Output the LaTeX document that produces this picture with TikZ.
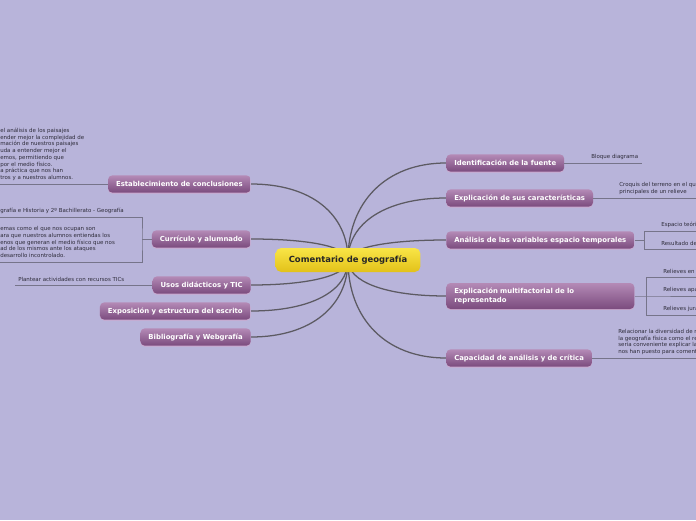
\documentclass[tikz,border=0pt]{standalone}
\usepackage{fontspec}
\setmainfont{DejaVu Sans}
\usepackage{tikz}
\usetikzlibrary{positioning, calc, shadows}

\definecolor{bgmap}{HTML}{B8B4DA}
\definecolor{topicTop}{HTML}{B48AB6}
\definecolor{topicBot}{HTML}{7B4B7E}
\definecolor{topicRim}{HTML}{CBA9CE}
\definecolor{rootTop}{HTML}{F9E547}
\definecolor{rootBot}{HTML}{E2C119}
\definecolor{linkGray}{HTML}{5C5A62}
\definecolor{noteGray}{HTML}{76748A}
\definecolor{noteText}{HTML}{2E2C3A}

\pgfdeclarelayer{edges}
\pgfsetlayers{edges,main}

\begin{document}
\begin{tikzpicture}[
    x=0.025cm, y=-0.025cm,
    root/.style={rectangle, rounded corners=4pt, top color=rootTop, bottom color=rootBot, text=black!85, font=\fontsize{6}{7}\selectfont\bfseries, minimum width=3.62cm, minimum height=0.6cm},
    topic/.style={rectangle, rounded corners=3pt, top color=topicTop, bottom color=topicBot, text=white, font=\fontsize{4.9}{5.9}\selectfont\bfseries, align=left, minimum height=0.43cm, inner xsep=0.2cm, drop shadow={shadow xshift=0pt, shadow yshift=-0.7pt, fill=topicRim, opacity=1}},
    note/.style={text=noteText, font=\fontsize{3.9}{4.8}\selectfont, align=left, inner sep=0pt},
    link/.style={draw=linkGray, line width=0.9pt},
    stem/.style={draw=noteGray, line width=0.5pt}
]

    \begin{pgfonlayer}{edges}
    \fill[bgmap] (0,0) rectangle (696,520);
    \end{pgfonlayer}
    \useasboundingbox (0,0) rectangle (696,520);

    % Central topic
    \node (root) [root] at (348,260) {Comentario de geografía};

    % Right branches
    \node (fuente) [topic, anchor=west] at (446,163) {Identificación de la fuente};
    \node (caract) [topic, anchor=west] at (446,198) {Explicación de sus características};
    \node (analisis) [topic, anchor=west] at (446,240) {Análisis de las variables espacio temporales};
    \node (multi) [topic, anchor=west, minimum height=0.65cm, text width=4.3cm] at (446,296) {Explicación multifactorial de lo\\representado};
    \node (capacidad) [topic, anchor=west] at (446,358) {Capacidad de análisis y de crítica};

    % Left branches
    \node (concl) [topic, anchor=east] at (251,184) {Establecimiento de conclusiones};
    \node (curriculo) [topic, anchor=east] at (251,239) {Currículo y alumnado};
    \node (usos) [topic, anchor=east] at (251,285) {Usos didácticos y TIC};
    \node (expo) [topic, anchor=east] at (251,311) {Exposición y estructura del escrito};
    \node (biblio) [topic, anchor=east] at (251,337) {Bibliografía y Webgrafía};

    % Notes, left side
    \node (conclNote) [note, anchor=south west] at (0,181) {el análisis de los paisajes\\ender mejor la complejidad de\\mación de nuestros paisajes\\uda a entender mejor el\\emos, permitiendo que\\por el medio físico.\\a práctica que nos han\\tros y a nuestros alumnos.};
    \coordinate (conclEnd) at (0,184);
    \node (currNoteA) [note, anchor=south west] at (0,214) {grafía e Historia y 2º Bachillerato - Geografía};
    \node (currNoteB) [note, anchor=south west] at (0,258) {emas como el que nos ocupan son\\ara que nuestros alumnos entiendas los\\enos que generan el medio físico que nos\\ad de los mismos ante los ataques\\ desarrollo incontrolado.};
    \coordinate (currTop) at (0,217);
    \coordinate (currBr) at (142,239);
    \coordinate (currBot) at (0,262);
    \node (usosNote) [note, anchor=south west] at (18,282) {Plantear actividades con recursos TICs};
    \coordinate (usosEnd) at (15,285);

    % Notes, right side
    \node (fuenteNote) [note, anchor=south west] at (591,160) {Bloque diagrama};
    \coordinate (fuenteEnd) at (642,163);
    \node (caractNote) [note, anchor=south west] at (619,195) {Croquis del terreno en el qu\\principales de un relieve};
    \coordinate (caractEnd) at (696,198);
    \node (anaNoteA) [note, anchor=south west] at (661,228) {Espacio teóri};
    \node (anaNoteB) [note, anchor=south west] at (661,246) {Resultado de};
    \coordinate (anaBr) at (644,240);
    \coordinate (anaTop) at (696,231);
    \coordinate (anaBot) at (696,249);
    \node (multiNoteA) [note, anchor=south west] at (663,274) {Relieves en};
    \node (multiNoteB) [note, anchor=south west] at (663,293) {Relieves apa};
    \node (multiNoteC) [note, anchor=south west] at (663,312) {Relieves jura};
    \coordinate (multiBr) at (646,296);
    \coordinate (multiTop) at (696,277);
    \coordinate (multiMid) at (696,296);
    \coordinate (multiBot) at (696,315);
    \node (capNote) [note, anchor=south west] at (618,355) {Relacionar la diversidad de r\\la geografía física como el re\\sería conveniente explicar la\\nos han puesto para coment};
    \coordinate (capEnd) at (696,358);

    % Stems to notes
    \draw [stem] (concl.west) -- (conclEnd);
    \draw [stem] (curriculo.west) -- (currBr);
    \draw [stem] (currTop) -| (currBr) |- (currBot);
    \draw [stem] (usos.west) -- (usosEnd);
    \draw [stem] (fuente.east) -- (fuenteEnd);
    \draw [stem] (caract.east) -- (caractEnd);
    \draw [stem] (analisis.east) -- (anaBr);
    \draw [stem] (anaTop) -| (anaBr) |- (anaBot);
    \draw [stem] (multi.east) -- (multiBr) -- (multiMid);
    \draw [stem] (multiTop) -| (multiBr) |- (multiBot);
    \draw [stem] (capacidad.east) -- (capEnd);

    % Branch curves
    \begin{pgfonlayer}{edges}
    \foreach \n/\d in {fuente/-58, caract/-37, analisis/-12, multi/22, capacidad/59}
        \draw [link] (root.center) .. controls +(0,\d) and +(-60,0) .. (\n.west);
    \foreach \n/\d in {concl/-46, curriculo/-13, usos/15, expo/31, biblio/46}
        \draw [link] (root.center) .. controls +(0,\d) and +(60,0) .. (\n.east);
    \end{pgfonlayer}

\end{tikzpicture}
\end{document}
